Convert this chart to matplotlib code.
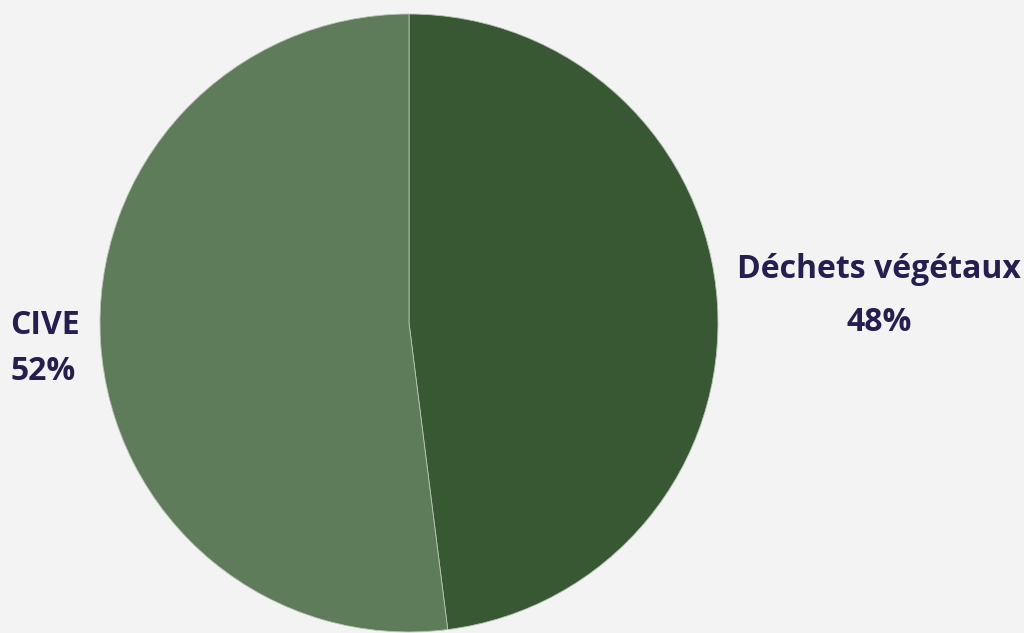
import matplotlib.pyplot as plt

# données
labels = ['Déchets végétaux', 'CIVE']
values = [48, 52]
colors = ['#375833', '#5f7c5a']

bg = '#f3f3f3'
txt = '#251f4f'

fig = plt.figure(figsize=(10.24, 6.33), dpi=100, facecolor=bg)
ax = fig.add_axes([0, 0, 1, 1])
ax.set_facecolor(bg)

ax.pie(values, colors=colors, startangle=90, counterclock=False,
       center=(409, 633 - 323), radius=309,
       wedgeprops=dict(edgecolor='#b9c4b7', linewidth=0.6))

# limites en pixels (après pie, qui les remet à zéro)
ax.set_xlim(0, 1024)
ax.set_ylim(0, 633)
ax.set_aspect('equal')
ax.axis('off')

font = dict(family=['Open Sans', 'DejaVu Sans'], fontweight='bold',
            fontsize=23, color=txt, va='baseline')

# étiquettes
ax.text(879, 633 - 278, labels[0], ha='center', **font)
ax.text(879, 633 - 331, f'{values[0]}%', ha='center', **font)
ax.text(10, 633 - 334, labels[1], ha='left', **font)
ax.text(10, 633 - 380, f'{values[1]}%', ha='left', **font)

plt.savefig('out.png', dpi=100, facecolor=bg)
